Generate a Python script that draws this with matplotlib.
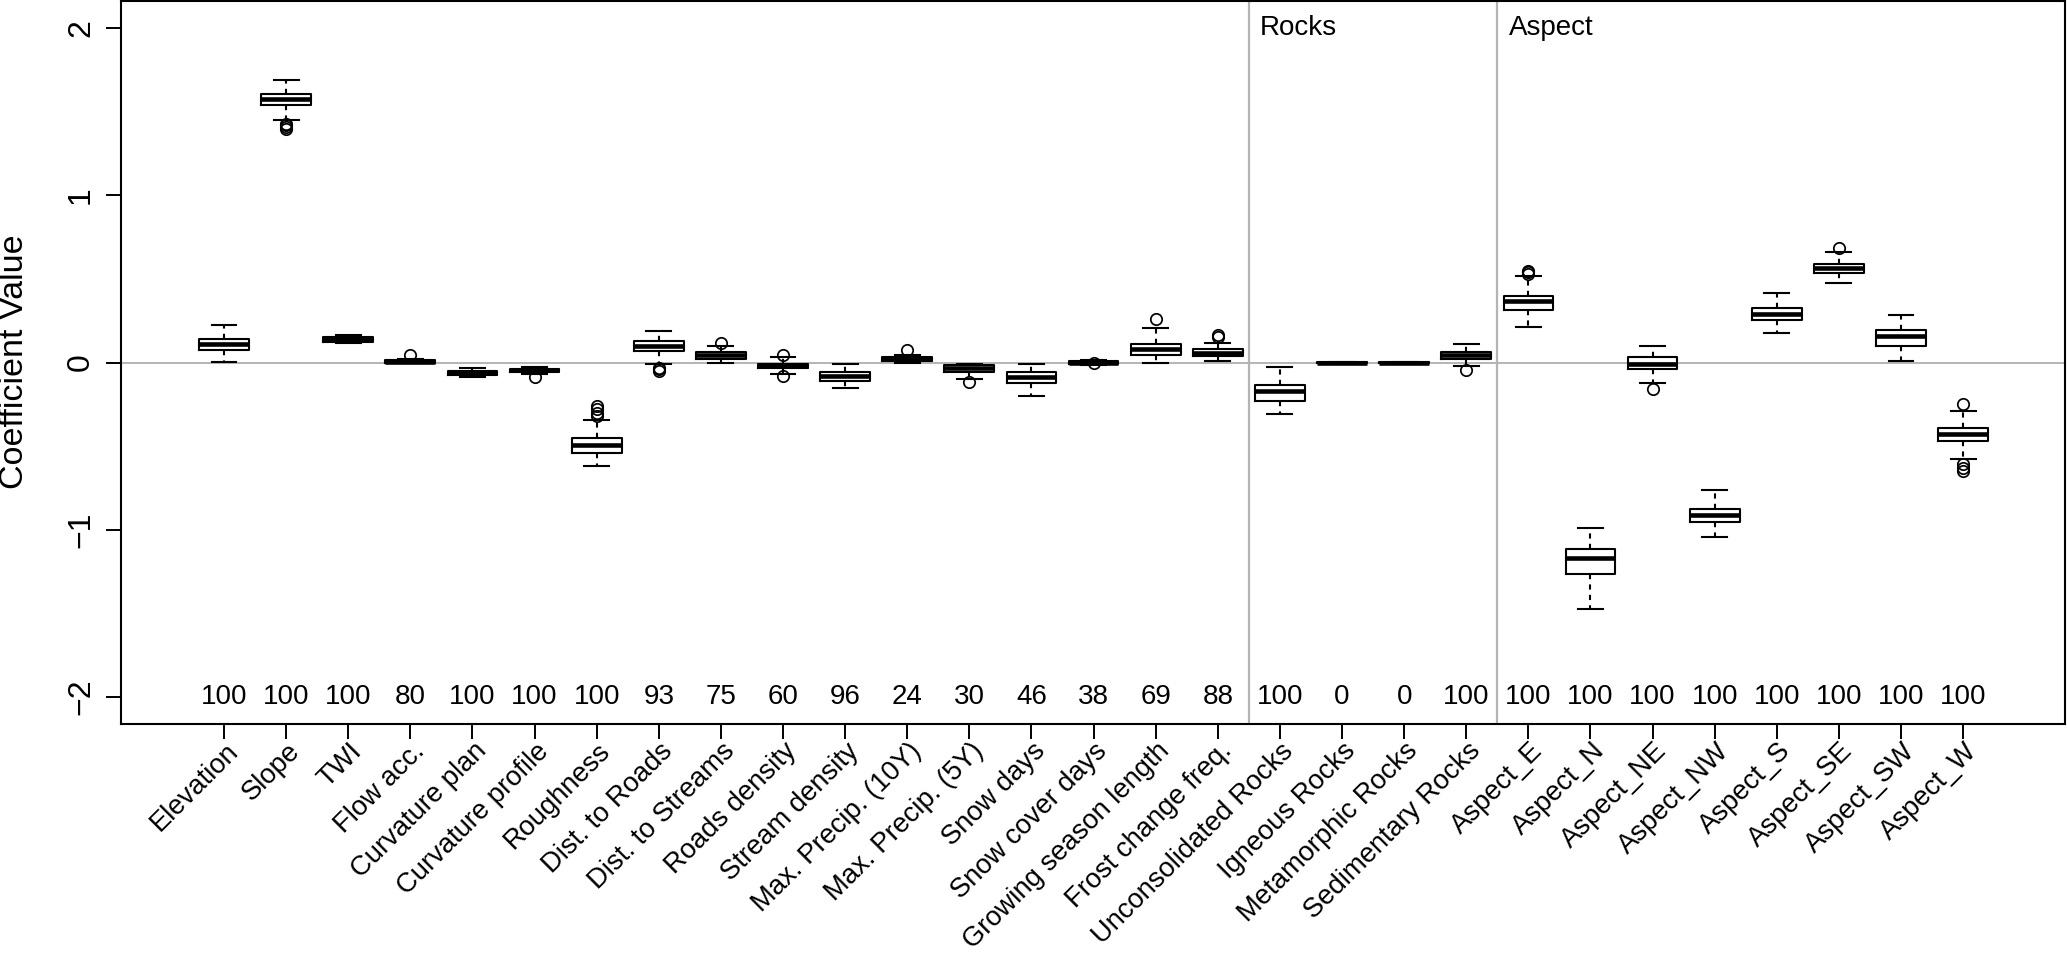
import matplotlib
matplotlib.use("Agg")
import matplotlib.pyplot as plt
from matplotlib.transforms import ScaledTranslation

plt.rcParams['font.family'] = ['Liberation Sans', 'DejaVu Sans']

categories = ["Elevation", "Slope", "TWI", "Flow acc.", "Curvature plan", "Curvature profile",
              "Roughness", "Dist. to Roads", "Dist. to Streams", "Roads density", "Stream density",
              "Max. Precip. (10Y)", "Max. Precip. (5Y)", "Snow days", "Snow cover days",
              "Growing season length", "Frost change freq.", "Unconsolidated Rocks", "Igneous Rocks",
              "Metamorphic Rocks", "Sedimentary Rocks", "Aspect_E", "Aspect_N", "Aspect_NE",
              "Aspect_NW", "Aspect_S", "Aspect_SE", "Aspect_SW", "Aspect_W"]

medians = [0.113, 1.576, 0.140, 0.005, -0.060, -0.047, -0.491, 0.100, 0.042, -0.018, -0.082,
           0.020, -0.034, -0.088, 0.000, 0.078, 0.058, -0.171, 0.0, 0.0, 0.042, 0.370, -1.171,
           -0.011, -0.910, 0.288, 0.566, 0.156, -0.429]
q1 = [0.073, 1.540, 0.125, 0.000, -0.072, -0.059, -0.539, 0.070, 0.020, -0.032, -0.112,
      0.008, -0.054, -0.125, -0.010, 0.044, 0.036, -0.229, -0.004, -0.004, 0.024, 0.316, -1.267,
      -0.036, -0.955, 0.252, 0.536, 0.100, -0.472]
q3 = [0.143, 1.606, 0.155, 0.013, -0.051, -0.037, -0.449, 0.127, 0.060, -0.006, -0.058,
      0.032, -0.014, -0.056, 0.010, 0.110, 0.080, -0.137, 0.004, 0.004, 0.060, 0.400, -1.113,
      0.032, -0.874, 0.327, 0.592, 0.197, -0.393]
whislo = [0.005, 1.450, 0.117, -0.001, -0.087, -0.071, -0.617, -0.008, 0.000, -0.070, -0.151,
          -0.002, -0.096, -0.200, -0.015, 0.000, 0.008, -0.311, -0.004, -0.004, -0.022, 0.214,
          -1.476, -0.120, -1.045, 0.175, 0.478, 0.011, -0.575]
whishi = [0.224, 1.693, 0.167, 0.020, -0.033, -0.027, -0.342, 0.189, 0.098, 0.034, -0.006,
          0.044, -0.006, -0.006, 0.015, 0.207, 0.116, -0.028, 0.004, 0.004, 0.110, 0.517,
          -0.989, 0.098, -0.760, 0.417, 0.660, 0.282, -0.293]
outliers = [[], [1.43, 1.42, 1.41, 1.40], [], [0.043], [], [-0.087],
            [-0.26, -0.28, -0.30, -0.32], [-0.03, -0.04, -0.05], [0.118], [0.044, -0.082], [],
            [0.074], [-0.116], [], [0.0], [0.263], [0.163, 0.150], [], [], [], [-0.046],
            [0.55, 0.54, 0.53], [], [-0.156], [], [], [0.686], [], [-0.25, -0.61, -0.63, -0.65]]
counts = [100, 100, 100, 80, 100, 100, 100, 93, 75, 60, 96, 24, 30, 46, 38, 69, 88,
          100, 0, 0, 100, 100, 100, 100, 100, 100, 100, 100, 100]
group_labels = ["Rocks", "Aspect"]
group_starts = [17.5, 21.5]

W, H = 2067, 955
fig = plt.figure(figsize=(W / 100, H / 100), dpi=100)
L, R, B, T = 120.7, 2065, 723.7, 1.5
ax = fig.add_axes([L / W, (H - B) / H, (R - L) / W, (B - T) / H])

positions = list(range(1, len(categories) + 1))
stats = []
for i in range(len(categories)):
    stats.append(dict(med=medians[i], q1=q1[i], q3=q3[i], whislo=whislo[i],
                      whishi=whishi[i], fliers=outliers[i]))

grey = '#b4b4b4'
ax.axhline(0, color=grey, lw=1.4, zorder=0)
for g in group_starts:
    ax.axvline(g, color=grey, lw=1.6, zorder=0)

ax.bxp(stats, positions=positions, widths=0.8, capwidths=0.4, showfliers=True,
       boxprops=dict(color='black', lw=1.5),
       medianprops=dict(color='black', lw=3.3, solid_capstyle='butt'),
       whiskerprops=dict(color='black', lw=1.5, linestyle=(0, (2.5, 2.5))),
       capprops=dict(color='black', lw=1.5),
       flierprops=dict(marker='o', markerfacecolor='none', markeredgecolor='black',
                       markersize=8.2, markeredgewidth=1.25))

for p, c in zip(positions, counts):
    ax.text(p, -2.0, str(c), ha='center', va='center', fontsize=20)

for lab, g in zip(group_labels, group_starts):
    ax.text(g + 0.18, 2.0, lab, ha='left', va='center', fontsize=20)

ax.set_xlim(-0.663, 30.64)
ax.set_ylim(-2.161, 2.16)

ax.set_xticks(positions)
ax.set_xticklabels(categories, fontsize=19.7)
ax.tick_params(axis='x', length=10.8, width=1.4, pad=9.7)
offset = ScaledTranslation(0.15, 0, fig.dpi_scale_trans)
for lbl in ax.get_xticklabels():
    lbl.set_rotation(45)
    lbl.set_ha('right')
    lbl.set_va('baseline')
    lbl.set_rotation_mode('anchor')
    lbl.set_transform(lbl.get_transform() + offset)

ax.set_yticks([-2, -1, 0, 1, 2])
ax.set_yticklabels(['\u22122', '\u22121', '0', '1', '2'], fontsize=23, rotation=90, va='center')
ax.tick_params(axis='y', length=10.8, width=1.4, pad=7)

ax.set_ylabel('Coefficient Value', fontsize=24.5)
ax.yaxis.label.set_va('center')
ax.yaxis.set_label_coords((15 - L) / (R - L), 0.501)

for s in ax.spines.values():
    s.set_linewidth(1.5)
    s.set_color('black')

fig.savefig('out.png', dpi=100)
